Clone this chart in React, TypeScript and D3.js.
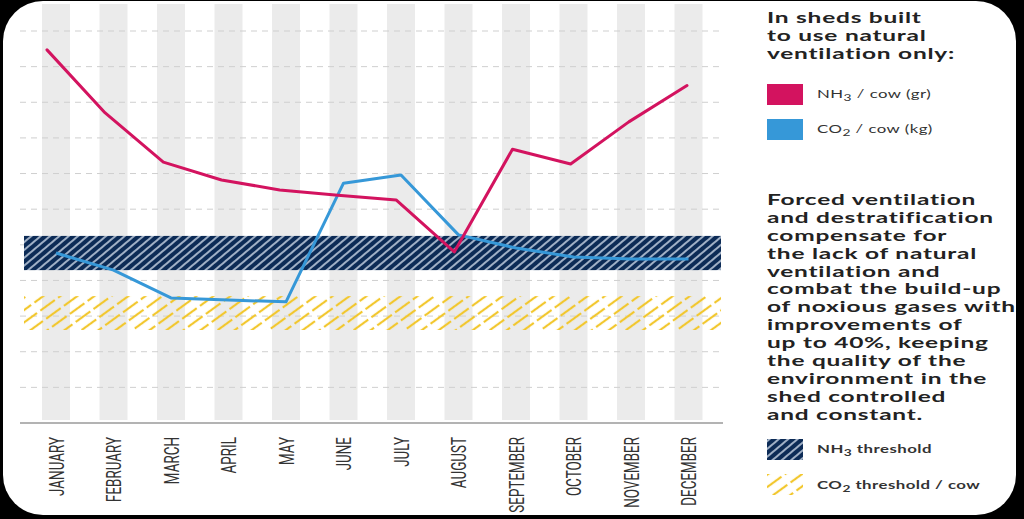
import React, { useEffect, useRef } from "react";
import * as d3 from "d3";

const months = [
  "JANUARY", "FEBRUARY", "MARCH", "APRIL", "MAY", "JUNE",
  "JULY", "AUGUST", "SEPTEMBER", "OCTOBER", "NOVEMBER", "DECEMBER",
];
// NH3 per cow (gr) in grid units
const nh3Values = [104.7, 87.0, 73.2, 68.2, 65.4, 63.9, 62.6, 48.0, 76.8, 72.7, 84.5, 94.7];
// CO2 per cow (kg)
const co2Values = [47.7, 42.9, 35.1, 34.5, 34.0, 67.3, 69.6, 52.8, 49.1, 46.6, 46.0, 46.0];
const nh3Threshold = [42.9, 52.5];
const co2Threshold = [26.1, 35.6];
const gridTicks = d3.range(10, 111, 10);

const titleLines = ["In sheds built", "to use natural", "ventilation only:"];
const bodyLines = [
  "Forced ventilation",
  "and destratification",
  "compensate for",
  "the lack of natural",
  "ventilation and",
  "combat the build-up",
  "of noxious gases with",
  "improvements of",
  "up to 40%, keeping",
  "the quality of the",
  "environment in the",
  "shed controlled",
  "and constant.",
];

const PINK = "#d3135f";
const BLUE = "#3698d8";
const NAVY = "#0c2b56";
const YELLOW = "#f2c72e";

const App = () => {
  const svgRef = useRef<SVGSVGElement | null>(null);

  useEffect(() => {
    document.body.style.margin = "0";
    const width = 1024;
    const height = 519;

    const svg = d3.select(svgRef.current);
    svg.selectAll("*").remove();

    // frame
    svg.append("rect").attr("width", width).attr("height", height).attr("fill", "#000");
    svg
      .append("rect")
      .attr("x", 3)
      .attr("y", 1)
      .attr("width", 1013)
      .attr("height", 514)
      .attr("rx", 40)
      .attr("fill", "#fff");

    const defs = svg.append("defs");
    const navyPat = defs
      .append("pattern")
      .attr("id", "nh3Hatch")
      .attr("patternUnits", "userSpaceOnUse")
      .attr("width", 6)
      .attr("height", 6)
      .attr("patternTransform", "rotate(50)");
    navyPat.append("rect").attr("width", 6).attr("height", 6).attr("fill", NAVY);
    navyPat
      .append("line")
      .attr("x1", 3).attr("x2", 3).attr("y1", 0).attr("y2", 6)
      .attr("stroke", "#dfe9f5")
      .attr("stroke-width", 1.4);

    const yellowPat = defs
      .append("pattern")
      .attr("id", "co2Hatch")
      .attr("patternUnits", "userSpaceOnUse")
      .attr("width", 10)
      .attr("height", 22)
      .attr("patternTransform", "rotate(54)");
    yellowPat
      .append("line")
      .attr("x1", 5).attr("x2", 5).attr("y1", 0).attr("y2", 22)
      .attr("stroke", YELLOW)
      .attr("stroke-width", 2.2)
      .attr("stroke-dasharray", "18 4");

    // scales
    const x = d3.scalePoint<string>().domain(months).range([56, 688.5]);
    const xNh3 = d3.scalePoint<string>().domain(months).range([47, 687]);
    const y = d3.scaleLinear().domain([0, 110]).range([423, 31]);

    const plotLeft = 20;
    const plotRight = 723;

    // grey month bands
    svg
      .append("g")
      .selectAll("rect")
      .data(months)
      .join("rect")
      .attr("x", (d) => x(d)! - 14)
      .attr("y", 4)
      .attr("width", 28)
      .attr("height", 416)
      .attr("fill", "#ebebeb");

    // dashed grid
    svg
      .append("g")
      .selectAll("line")
      .data(gridTicks)
      .join("line")
      .attr("x1", plotLeft)
      .attr("x2", plotRight)
      .attr("y1", (d) => y(d))
      .attr("y2", (d) => y(d))
      .attr("stroke", "#cfcfcf")
      .attr("stroke-width", 1)
      .attr("stroke-dasharray", "6 5");

    // threshold bands
    svg
      .append("rect")
      .attr("x", 24)
      .attr("width", 721 - 24)
      .attr("y", y(co2Threshold[1]))
      .attr("height", y(co2Threshold[0]) - y(co2Threshold[1]))
      .attr("fill", "url(#co2Hatch)");
    svg
      .append("rect")
      .attr("x", 24)
      .attr("width", 721 - 24)
      .attr("y", y(nh3Threshold[1]))
      .attr("height", y(nh3Threshold[0]) - y(nh3Threshold[1]))
      .attr("fill", "url(#nh3Hatch)");

    // axis line
    svg
      .append("line")
      .attr("x1", plotLeft)
      .attr("x2", plotRight)
      .attr("y1", y(0))
      .attr("y2", y(0))
      .attr("stroke", "#9a9a9a")
      .attr("stroke-width", 1.5);

    // series
    const nh3Line = d3
      .line<number>()
      .x((_, i) => xNh3(months[i])!)
      .y((d) => y(d));
    const co2Line = d3
      .line<number>()
      .x((_, i) => x(months[i])!)
      .y((d) => y(d));

    svg
      .append("path")
      .attr("d", co2Line(co2Values))
      .attr("fill", "none")
      .attr("stroke", BLUE)
      .attr("stroke-width", 3)
      .attr("stroke-linejoin", "round");
    svg
      .append("path")
      .attr("d", nh3Line(nh3Values))
      .attr("fill", "none")
      .attr("stroke", PINK)
      .attr("stroke-width", 3)
      .attr("stroke-linejoin", "round")
      .attr("stroke-linecap", "round");

    // month labels
    svg
      .append("g")
      .selectAll("text")
      .data(months)
      .join("text")
      .attr("transform", (d) => `translate(${x(d)},437) rotate(-90) scale(0.64,1)`)
      .attr("text-anchor", "end")
      .attr("dy", "0.36em")
      .attr("font-family", "Roboto, sans-serif")
      .attr("font-size", 21)
      .attr("fill", "#333")
      .text((d) => d);

    // legend / text panel (type is stretched wide in the original)
    const panelX = 767;
    const stretch = 1.53;
    const textFont = "Lato, 'Open Sans', sans-serif";

    const paragraph = (lines: string[], top: number, step: number) =>
      svg
        .append("g")
        .attr("transform", `translate(${panelX},0) scale(${stretch},1)`)
        .selectAll("text")
        .data(lines)
        .join("text")
        .attr("x", 0)
        .attr("y", (_, i) => top + i * step)
        .attr("font-family", textFont)
        .attr("font-weight", 700)
        .attr("font-size", 16)
        .attr("letter-spacing", 0.5)
        .attr("fill", "#222")
        .text((d) => d);

    paragraph(titleLines, 23, 17.8);
    paragraph(bodyLines, 205, 17.9);

    const legendItems = [
      { fill: PINK, top: 84, base: 98, main: "NH", sub: "3", rest: " / cow (gr)", weight: 400 },
      { fill: BLUE, top: 119, base: 133, main: "CO", sub: "2", rest: " / cow (kg)", weight: 400 },
      { fill: "url(#nh3Hatch)", top: 439, base: 453, main: "NH", sub: "3", rest: " threshold", weight: 700 },
      { fill: "url(#co2Hatch)", top: 474, base: 489, main: "CO", sub: "2", rest: " threshold / cow", weight: 700 },
    ];
    const leg = svg.append("g");
    legendItems.forEach((it) => {
      leg
        .append("rect")
        .attr("x", panelX)
        .attr("y", it.top)
        .attr("width", 36)
        .attr("height", 21)
        .attr("fill", it.fill);
      const t = leg
        .append("text")
        .attr("transform", `translate(817,${it.base}) scale(${stretch},1)`)
        .attr("font-family", textFont)
        .attr("font-size", 11)
        .attr("font-weight", it.weight)
        .attr("letter-spacing", 0.3)
        .attr("fill", "#333");
      t.append("tspan").text(it.main);
      t.append("tspan").attr("font-size", 9).attr("dy", 2.5).text(it.sub);
      t.append("tspan").attr("dy", -2.5).text(it.rest);
    });
  }, []);

  return <svg ref={svgRef} width={1024} height={519} style={{ display: "block" }} />;
};

export default App;
